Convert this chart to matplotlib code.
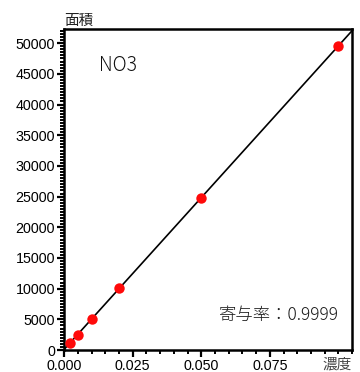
import numpy as np
import matplotlib
matplotlib.use("Agg")
import matplotlib.pyplot as plt
from matplotlib.ticker import MultipleLocator

# Calibration data for NO3
concentration = [0.002, 0.005, 0.010, 0.020, 0.050, 0.100]
area = [1200, 2450, 5000, 10100, 24700, 49600]
r_squared = "0.9999"

x_max = 0.105
y_max = 52300
x_ticks = [0.000, 0.025, 0.050, 0.075]
x_tick_labels = ["0.000", "0.025", "0.050", "0.075"]
y_ticks = list(range(0, 50001, 5000))

cjk = ["Noto Sans CJK JP", "DejaVu Sans"]
num_font = ["Liberation Sans", "DejaVu Sans"]

fig = plt.figure(figsize=(3.60, 3.72), dpi=100)
ax = fig.add_axes([0.178, 0.059, 0.800, 0.863])

# Least-squares line through the standards
slope, intercept = np.polyfit(concentration, area, 1)
xs = np.array([0.0, x_max * 1.02])
ax.plot(xs, slope * xs + intercept, color="black", lw=1.2, zorder=2)

ax.plot(concentration, area, "o", color="#ff0a0a", markersize=7.5,
        markeredgewidth=0, zorder=3)

ax.set_xlim(0, x_max)
ax.set_ylim(0, y_max)
ax.set_xticks(x_ticks)
ax.set_xticklabels(x_tick_labels)
ax.set_yticks(y_ticks)
ax.xaxis.set_minor_locator(MultipleLocator(0.005))
ax.yaxis.set_minor_locator(MultipleLocator(500))

for s in ax.spines.values():
    s.set_linewidth(1.8)
    s.set_color("black")

ax.tick_params(which="major", direction="out", length=5, width=1.6,
               labelsize=10.3, pad=1.5)
ax.tick_params(which="minor", direction="out", length=3, width=1.4)
for lab in ax.get_xticklabels() + ax.get_yticklabels():
    lab.set_family(num_font)

ax.text(0.0, 1.003, "面積", transform=ax.transAxes, ha="left", va="bottom",
        fontsize=10.5, family=cjk, color="#222222")
ax.text(1.0, -0.022, "濃度", transform=ax.transAxes, ha="right", va="top",
        fontsize=10.5, family=cjk, color="#444444")
ax.text(0.12, 0.885, "NO3", transform=ax.transAxes, ha="left", va="center",
        fontsize=14, family=cjk, weight="light", color="#111111")
ax.text(0.955, 0.11, "寄与率：" + r_squared, transform=ax.transAxes,
        ha="right", va="center", fontsize=12.5, family=cjk, weight="light",
        color="#1a1a1a")

fig.savefig("out.png", dpi=100)
